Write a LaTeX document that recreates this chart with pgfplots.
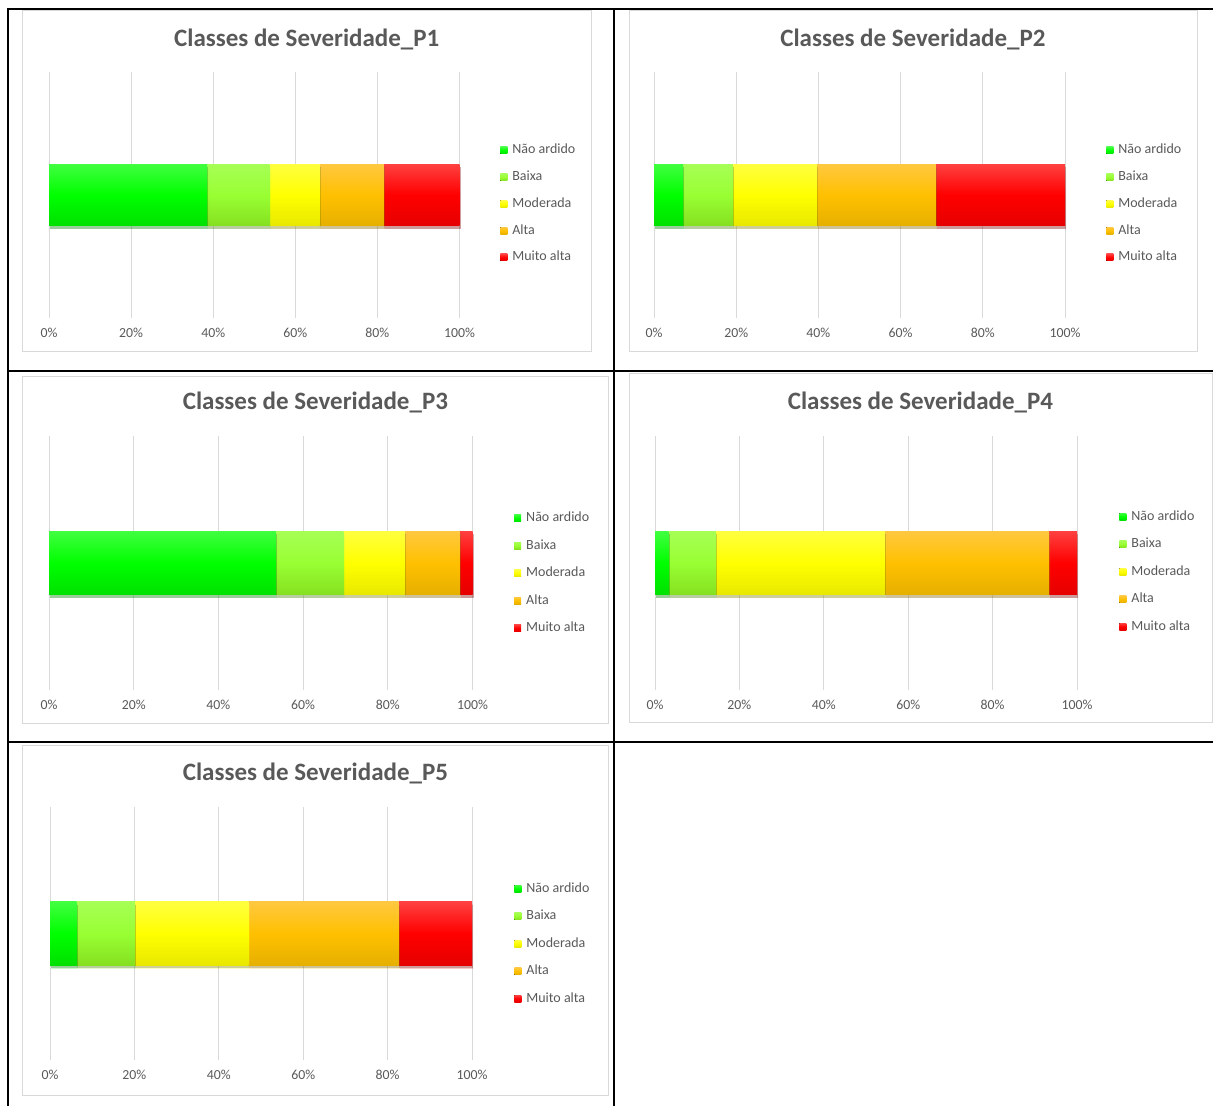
\documentclass[border=0pt]{standalone}
\usepackage{fontspec}
\setmainfont{Carlito}
\usepackage{pgfplots}
\pgfplotsset{compat=1.18}
\definecolor{txtgray}{HTML}{595959}
\definecolor{gridgray}{HTML}{D9D9D9}
\definecolor{framegray}{HTML}{D9D9D9}
\definecolor{gtop}{HTML}{40FF40}\definecolor{gmid}{HTML}{00FF00}\definecolor{gbot}{HTML}{00E000}
\definecolor{ltop}{HTML}{A6FF55}\definecolor{lmid}{HTML}{99FF33}\definecolor{lbot}{HTML}{85E020}
\definecolor{ytop}{HTML}{FFFF40}\definecolor{ymid}{HTML}{FFFF00}\definecolor{ybot}{HTML}{E8E800}
\definecolor{otop}{HTML}{FFC840}\definecolor{omid}{HTML}{FFC000}\definecolor{obot}{HTML}{E6B000}
\definecolor{rtop}{HTML}{FF4040}\definecolor{rmid}{HTML}{FF0000}\definecolor{rbot}{HTML}{E60000}
\def\shadowop{0.22}
\pgfplotsset{
  sev/.style={
    xbar stacked, scale only axis, clip=false,
    xmin=0, xmax=100, ymin=-1, ymax=1,
    ytick=\empty, xtick={0,20,40,60,80,100},
    xticklabels={0\%,20\%,40\%,60\%,80\%,100\%},
    axis line style={draw=none}, major tick length=0pt,
    xmajorgrids, grid style={draw=gridgray, line width=1pt},
    bar width=0.5,
    xticklabel style={font=\fontsize{13.8}{14}\selectfont, text=txtgray, anchor=center, yshift=-15pt},
    title style={font=\bfseries\fontsize{25}{28}\selectfont, text=txtgray, anchor=base},
    legend style={draw=none, fill=none, inner sep=0pt, anchor=west,
      font=\fontsize{14}{14}\selectfont, text=txtgray,
      nodes={inner sep=0pt, text height=10pt, text depth=3pt},
      cells={anchor=west}, row sep=13.75pt, column sep=5pt},
    legend image code/.code={\def\shadowop{0}\fill[##1] (0pt,-3.5pt) rectangle (7pt,3.5pt);},
  },
  wide/.style={legend style={row sep=14.5pt}},
  shad/.style={preaction={fill=black, fill opacity=\shadowop, transform canvas={shift={(1pt,-3pt)}}}},
  cNA/.style={shad, draw=none, top color=gtop, bottom color=gbot, middle color=gmid},
  cBA/.style={shad, draw=none, top color=ltop, bottom color=lbot, middle color=lmid},
  cMO/.style={shad, draw=none, top color=ytop, bottom color=ybot, middle color=ymid},
  cAL/.style={shad, draw=none, top color=otop, bottom color=obot, middle color=omid},
  cMA/.style={shad, draw=none, top color=rtop, bottom color=rbot, middle color=rmid},
}
\begin{document}
\begin{tikzpicture}
\path[use as bounding box] (0pt,0pt) rectangle (1213pt,-1106pt);
% chart frames
\draw[framegray, line width=1pt] (22pt,-10pt) rectangle (591pt,-351pt);
\draw[framegray, line width=1pt] (629pt,-10pt) rectangle (1197pt,-351pt);
\draw[framegray, line width=1pt] (22pt,-376pt) rectangle (608pt,-723pt);
\draw[framegray, line width=1pt] (629pt,-373pt) rectangle (1212pt,-722pt);
\draw[framegray, line width=1pt] (22pt,-745pt) rectangle (608pt,-1095pt);
% table lines
\draw[black, line width=2pt] (8pt,-1106pt) -- (8pt,-9pt) -- (1213pt,-9pt);
\draw[black, line width=2pt] (613.5pt,-9pt) -- (613.5pt,-1106pt);
\draw[black, line width=2pt] (8pt,-371pt) -- (1213pt,-371pt);
\draw[black, line width=2pt] (8pt,-742pt) -- (1213pt,-742pt);

% P1
\begin{axis}[sev, at={(49pt,-318pt)}, anchor=south west, width=410.5pt, height=246pt,
  title={Classes de Severidade\_P1}, title style={at={(0.628,1.078)}},
  legend style={at={(1.099,0.4635)}}]
\addplot[cNA] coordinates {(38.5,0)}; \addlegendentry{Não ardido}
\addplot[cBA] coordinates {(15.2,0)}; \addlegendentry{Baixa}
\addplot[cMO] coordinates {(12.2,0)}; \addlegendentry{Moderada}
\addplot[cAL] coordinates {(15.6,0)}; \addlegendentry{Alta}
\addplot[cMA] coordinates {(18.5,0)}; \addlegendentry{Muito alta}
\end{axis}

% P2
\begin{axis}[sev, at={(654pt,-318pt)}, anchor=south west, width=411pt, height=246pt,
  title={Classes de Severidade\_P2}, title style={at={(0.630,1.078)}},
  legend style={at={(1.10,0.4635)}}]
\addplot[cNA] coordinates {(7.1,0)}; \addlegendentry{Não ardido}
\addplot[cBA] coordinates {(12.1,0)}; \addlegendentry{Baixa}
\addplot[cMO] coordinates {(20.4,0)}; \addlegendentry{Moderada}
\addplot[cAL] coordinates {(29.0,0)}; \addlegendentry{Alta}
\addplot[cMA] coordinates {(31.4,0)}; \addlegendentry{Muito alta}
\end{axis}

% P3
\begin{axis}[sev, wide, at={(49pt,-690pt)}, anchor=south west, width=423.5pt, height=254pt,
  title={Classes de Severidade\_P3}, title style={at={(0.629,1.082)}},
  legend style={at={(1.098,0.4606)}}]
\addplot[cNA] coordinates {(53.6,0)}; \addlegendentry{Não ardido}
\addplot[cBA] coordinates {(15.9,0)}; \addlegendentry{Baixa}
\addplot[cMO] coordinates {(14.5,0)}; \addlegendentry{Moderada}
\addplot[cAL] coordinates {(13.0,0)}; \addlegendentry{Alta}
\addplot[cMA] coordinates {(3.0,0)}; \addlegendentry{Muito alta}
\end{axis}

% P4
\begin{axis}[sev, wide, at={(655pt,-690pt)}, anchor=south west, width=422pt, height=254pt,
  title={Classes de Severidade\_P4}, title style={at={(0.629,1.082)}},
  legend style={at={(1.10,0.466)}}]
\addplot[cNA] coordinates {(3.2,0)}; \addlegendentry{Não ardido}
\addplot[cBA] coordinates {(11.2,0)}; \addlegendentry{Baixa}
\addplot[cMO] coordinates {(40.1,0)}; \addlegendentry{Moderada}
\addplot[cAL] coordinates {(38.9,0)}; \addlegendentry{Alta}
\addplot[cMA] coordinates {(6.6,0)}; \addlegendentry{Muito alta}
\end{axis}

% P5
\begin{axis}[sev, wide, at={(50pt,-1060pt)}, anchor=south west, width=422pt, height=253pt,
  title={Classes de Severidade\_P5}, title style={at={(0.629,1.082)}},
  legend style={at={(1.10,0.460)}}]
\addplot[cNA] coordinates {(6.3,0)}; \addlegendentry{Não ardido}
\addplot[cBA] coordinates {(13.8,0)}; \addlegendentry{Baixa}
\addplot[cMO] coordinates {(26.9,0)}; \addlegendentry{Moderada}
\addplot[cAL] coordinates {(35.6,0)}; \addlegendentry{Alta}
\addplot[cMA] coordinates {(17.4,0)}; \addlegendentry{Muito alta}
\end{axis}
\end{tikzpicture}
\end{document}
